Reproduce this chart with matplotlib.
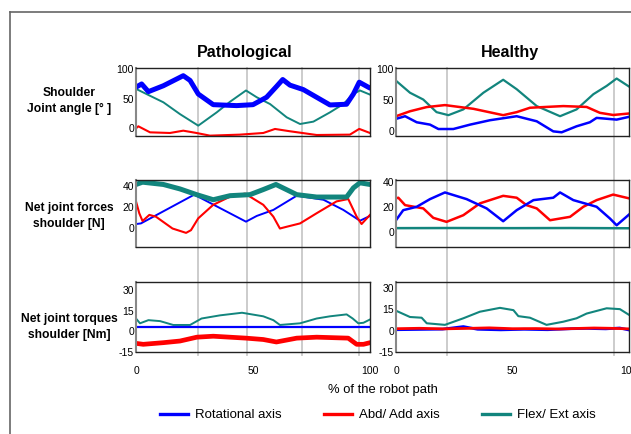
import matplotlib
matplotlib.use('Agg')
import matplotlib.pyplot as plt
from matplotlib.lines import Line2D

plt.rcParams['font.family'] = ['Liberation Sans', 'DejaVu Sans']
plt.rcParams['axes.unicode_minus'] = False

blue = '#0000ff'
red = '#ff0000'
teal = '#12857d'

# ---- Pathological: joint angle
pa_rot_x = [0, 2.4, 5.3, 11.7, 20.2, 23.1, 26.6, 33, 43, 50, 55.8, 60.1, 62.7, 65.8, 71.5, 77.2, 82.9, 90, 92.9, 95.4, 100]
pa_rot_y = [69.5, 75, 62, 72, 89, 81, 58, 40, 38.4, 40, 52.5, 71, 82.5, 73, 65.5, 52.5, 39.5, 40.7, 58, 78, 68]
pa_flex_x = [0, 6, 11.7, 18.8, 26.6, 34.5, 40.2, 47, 51.6, 57.3, 64.4, 70.1, 75.8, 82.9, 88.6, 92.9, 95.7, 100]
pa_flex_y = [66.7, 55, 44, 24, 4.5, 27, 45, 64, 52.5, 41, 18.6, 7.3, 11.3, 27, 41, 58, 64, 57]
pa_abd_x = [0, 1, 6, 14.5, 20.2, 26, 31.6, 44.4, 54.4, 59.4, 65.8, 77.2, 91.4, 95.4, 100]
pa_abd_y = [0, 3.4, -6.8, -7.9, -4, -8, -12.4, -10.7, -7.9, -1.1, -5, -11.3, -10.7, -1, -7.9]

# ---- Healthy: joint angle
ha_rot_x = [0, 3.9, 8.9, 14.6, 18.2, 24.6, 31.8, 40.3, 51.8, 60.4, 67.5, 71.1, 77.5, 83.2, 86.1, 94.7, 100]
ha_rot_y = [19.7, 24, 14.2, 10.4, 3.3, 3.3, 10.4, 17.5, 24, 15.8, -0.5, -2, 7.7, 14.2, 21.3, 18.5, 23]
ha_flex_x = [0, 6, 11.7, 17.4, 22.5, 28.9, 37.5, 46, 51.8, 60.4, 70.4, 77.5, 84.7, 90.4, 94.7, 100]
ha_flex_y = [81.4, 62, 51, 30.6, 25.7, 35, 62, 83, 67.7, 40.4, 24, 35, 59.6, 73, 85, 72]
ha_abd_x = [0, 6, 13.2, 21, 33.2, 46, 51.8, 57.5, 71.8, 81.8, 87.5, 93.2, 100]
ha_abd_y = [24, 32, 38.8, 42, 36, 25.7, 30.6, 37.7, 40.4, 39, 29.5, 26, 28.4]

# ---- Pathological: net joint forces
pf_rot_x = [0, 2.1, 24.9, 47, 51.6, 58.7, 68.7, 80.1, 88.6, 95.7, 100]
pf_rot_y = [3.6, 4.2, 31.9, 5.9, 11.4, 17.2, 30.9, 27, 17.2, 6.8, 11.4]
pf_flex_x = [0, 2.8, 11.7, 18.8, 25.9, 33, 40.2, 48.7, 54.4, 59.8, 68.7, 77.2, 90, 92.9, 95.7, 100]
pf_flex_y = [41.7, 43.9, 41.7, 37.4, 31.9, 27, 30.9, 31.9, 36.8, 41.7, 31.9, 29.6, 29.6, 38.4, 43.3, 41.7]
pf_abd_x = [0, 1.4, 2.8, 5.7, 8.5, 15.6, 21.4, 23.5, 26.6, 33, 40.2, 46.6, 54.4, 58.7, 61.5, 64.4, 70.1, 77.2, 85.7, 90.7, 94.3, 96.4, 100]
pf_abd_y = [25.4, 14, 6.5, 12.4, 10.7, -0.7, -4.9, -2.3, 9.1, 22.1, 30, 32.9, 22.1, 10.7, -0.7, 1, 4.2, 14, 25.4, 27.7, 10.7, 3.6, 12.4]

# ---- Healthy: net joint forces
hf_rot_x = [0, 3.1, 8.9, 14.6, 21, 30.3, 38.9, 46, 51.8, 59, 67.5, 70.4, 76.1, 86.1, 91.8, 94.7, 100]
hf_rot_y = [9.6, 17.6, 20.3, 26.4, 31.7, 26.4, 19, 8.8, 17.6, 25.6, 27.5, 31.7, 25.6, 20.3, 11, 5.6, 14.1]
hf_flex_x = [0, 25, 50, 75, 100]
hf_flex_y = [3.3, 3.4, 3.3, 3.4, 3.2]
hf_abd_x = [0, 1, 3.9, 11.7, 16, 21.7, 28.9, 36, 46, 51.8, 56, 60.4, 66.1, 74.7, 80.4, 86.1, 93.2, 100]
hf_abd_y = [27, 27.5, 21.6, 19, 11.5, 8.3, 13.6, 23, 29, 27.5, 21.6, 19, 9.6, 12.3, 20.3, 25.6, 30, 27]

# ---- Pathological: net joint torques
pt_rot_x = [0, 50, 100]
pt_rot_y = [3.5, 3.5, 3.5]
pt_flex_x = [0, 1.7, 5.3, 10.3, 15.9, 23.1, 28, 35.9, 45.3, 54.4, 58.7, 61.5, 70.1, 77.2, 82.9, 90, 92.6, 95, 97.2, 100]
pt_flex_y = [9.4, 5.9, 8.2, 7.5, 4.7, 4.7, 9.4, 11.7, 13.6, 11, 8.2, 4.7, 5.9, 9.4, 11, 12.4, 9.4, 5.9, 6.3, 8.7]
pt_abd_x = [0, 3.1, 11.7, 18.8, 26, 33, 47, 54.4, 60, 68.7, 77.2, 90.7, 94.3, 97.2, 100]
pt_abd_y = [-8.7, -9.4, -8.2, -7, -4.2, -3.5, -4.9, -5.9, -7.7, -4.9, -4.2, -4.9, -9.4, -9.4, -8.2]

# ---- Healthy: net joint torques
ht_rot_x = [0, 10, 20, 28.9, 35, 45, 55, 65, 75, 82, 90, 96, 100]
ht_rot_y = [0.6, 0.8, 1.0, 2.8, 0.9, 0.5, 0.9, 0.6, 1.3, 1.5, 1.2, 1.8, 0.4]
ht_flex_x = [0, 6, 11, 13.2, 21, 28.9, 36, 44.6, 50.4, 52.5, 57.5, 64.6, 71.8, 77.5, 81.8, 90.4, 96.1, 100]
ht_flex_y = [13.9, 9.5, 9, 5.1, 4, 8.6, 13.2, 15.9, 14.3, 10.1, 9, 4, 6.2, 8.6, 11.9, 15.6, 15, 11]
ht_abd_x = [0, 10, 20, 30, 40, 50, 60, 70, 78, 85, 92, 100]
ht_abd_y = [1.3, 1.6, 1.2, 1.5, 1.9, 1.3, 1.4, 1.1, 1.5, 1.8, 1.6, 1.2]

col_titles = ['Pathological', 'Healthy']
row_labels = ['Shoulder\nJoint angle [\u00b0 ]', 'Net joint forces\nshoulder [N]', 'Net joint torques\nshoulder [Nm]']
legend_labels = ['Rotational axis', 'Abd/ Add axis', 'Flex/ Ext axis']

W, H = 631, 434
fig = plt.figure(figsize=(W / 100, H / 100), dpi=100)


def px_axes(x0, y0, x1, y1):
    return fig.add_axes([x0 / W, 1 - y1 / H, (x1 - x0) / W, (y1 - y0) / H])


def setup(ax, ylim, yticks, show_x):
    ax.set_xlim(0, 100)
    ax.set_ylim(*ylim)
    ax.set_yticks(yticks)
    ax.set_xticks([0, 50, 100])
    ax.tick_params(length=0, labelsize=7.5, pad=1.5)
    ax.tick_params(axis='x', pad=10)
    if not show_x:
        ax.set_xticklabels([])
    ax.patch.set_alpha(0)
    for s in ax.spines.values():
        s.set_color('#222222')
        s.set_linewidth(1.0)
    ax.spines['left'].set_color('#888888')
    ax.spines['left'].set_linewidth(1.5)


cols = [(136, 370), (396, 629)]
rows = [(68, 136), (180, 247), (282, 352)]

# figure frame and gray guide lines
fig.add_artist(Line2D([10 / W, 1], [1 - 12 / H] * 2, color='#666666', lw=1.2, zorder=-2))
fig.add_artist(Line2D([10 / W] * 2, [0, 1 - 12 / H], color='#666666', lw=1.2, zorder=-2))
for gx in [197.7, 247.3, 301.7, 358.7, 446.7, 614.3]:
    fig.add_artist(Line2D([gx / W] * 2, [1 - 355 / H, 1 - 68 / H], color='#c8c8c8', lw=1.3, zorder=-1))

# row 1: joint angle
ax = px_axes(cols[0][0], rows[0][0], cols[0][1], rows[0][1])
ax.plot(pa_flex_x, pa_flex_y, color=teal, lw=1.4)
ax.plot(pa_abd_x, pa_abd_y, color=red, lw=1.5)
ax.plot(pa_rot_x, pa_rot_y, color=blue, lw=3.6, solid_capstyle='round')
setup(ax, (-13, 102), [0, 50, 100], False)

ax = px_axes(cols[1][0], rows[0][0], cols[1][1], rows[0][1])
ax.plot(ha_flex_x, ha_flex_y, color=teal, lw=1.6)
ax.plot(ha_abd_x, ha_abd_y, color=red, lw=1.8)
ax.plot(ha_rot_x, ha_rot_y, color=blue, lw=1.8)
setup(ax, (-8, 102), [0, 50, 100], False)

# row 2: net joint forces
ax = px_axes(cols[0][0], rows[1][0], cols[0][1], rows[1][1])
ax.plot(pf_rot_x, pf_rot_y, color=blue, lw=1.4)
ax.plot(pf_abd_x, pf_abd_y, color=red, lw=1.5)
ax.plot(pf_flex_x, pf_flex_y, color=teal, lw=3.6, solid_capstyle='round')
setup(ax, (-18.5, 46), [0, 20, 40], False)

ax = px_axes(cols[1][0], rows[1][0], cols[1][1], rows[1][1])
ax.plot(hf_flex_x, hf_flex_y, color=teal, lw=1.8)
ax.plot(hf_abd_x, hf_abd_y, color=red, lw=1.8)
ax.plot(hf_rot_x, hf_rot_y, color=blue, lw=1.8)
setup(ax, (-11.7, 41.6), [0, 20, 40], False)

# row 3: net joint torques
ax = px_axes(cols[0][0], rows[2][0], cols[0][1], rows[2][1])
ax.plot(pt_flex_x, pt_flex_y, color=teal, lw=1.4)
ax.plot(pt_rot_x, pt_rot_y, color=blue, lw=1.6)
ax.plot(pt_abd_x, pt_abd_y, color=red, lw=3.4, solid_capstyle='round')
setup(ax, (-15, 36), [-15, 0, 15, 30], True)

ax = px_axes(cols[1][0], rows[2][0], cols[1][1], rows[2][1])
ax.plot(ht_flex_x, ht_flex_y, color=teal, lw=1.5)
ax.plot(ht_rot_x, ht_rot_y, color=blue, lw=2.0)
ax.plot(ht_abd_x, ht_abd_y, color=red, lw=2.0)
setup(ax, (-12, 34), [-15, 0, 15, 30], True)

# titles and labels
fig.text(245 / W, 1 - 52 / H, col_titles[0], ha='center', va='center', fontsize=11.5, fontweight='bold')
fig.text(510 / W, 1 - 52 / H, col_titles[1], ha='center', va='center', fontsize=11.5, fontweight='bold')
for lab, yc in zip(row_labels, [101, 216, 327]):
    fig.text(69 / W, 1 - yc / H, lab, ha='center', va='center', fontsize=8.7,
             fontweight='bold', linespacing=1.55)
fig.text(383 / W, 1 - 390 / H, '% of the robot path', ha='center', va='center', fontsize=9.4)

handles = [Line2D([], [], color=c, lw=2.4) for c in [blue, red, teal]]
fig.legend(handles, legend_labels, loc='center', bbox_to_anchor=(378 / W, 1 - 415 / H), ncol=3,
           frameon=False, fontsize=9.5, handlelength=2.1, handletextpad=0.55, columnspacing=3.2)

fig.savefig('out.png', dpi=100)
